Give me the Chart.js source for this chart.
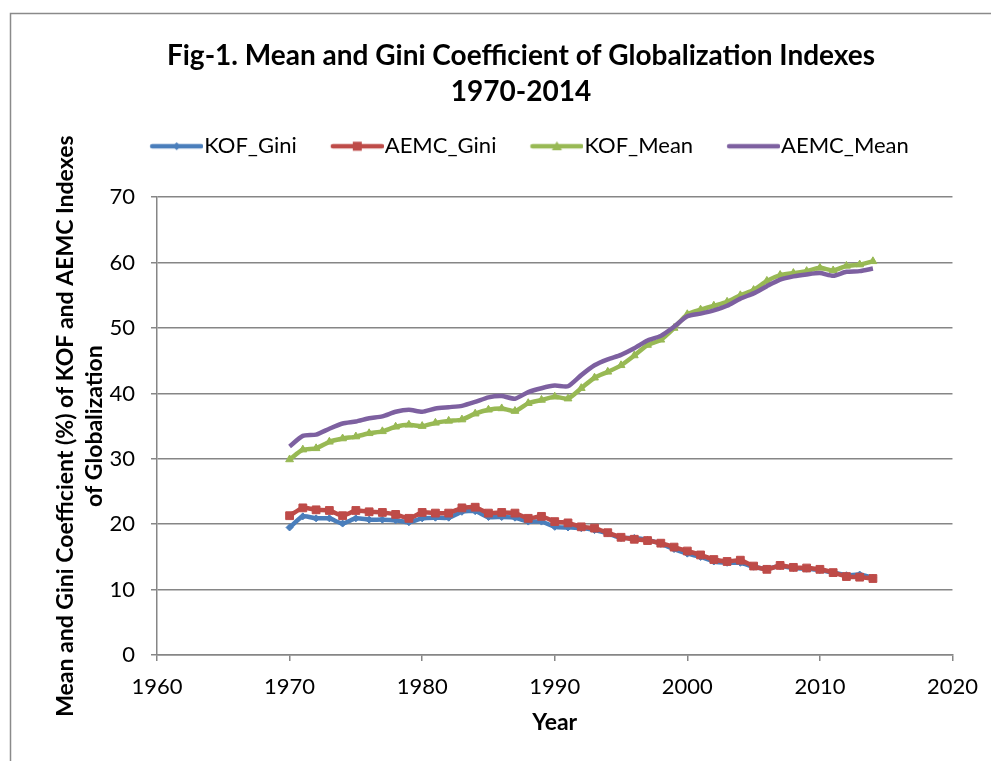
<!DOCTYPE html>
<html>
<head>
<meta charset="utf-8">
<script src="https://cdn.jsdelivr.net/npm/chart.js@4"></script>
<style>
  html, body { margin: 0; padding: 0; background: #fff; }
  #wrap { width: 991px; height: 761px; }
</style>
</head>
<body>
<div id="wrap"><canvas id="chart" width="991" height="761"></canvas></div>
<script>
const years = [1970, 1971, 1972, 1973, 1974, 1975, 1976, 1977, 1978, 1979,
    1980, 1981, 1982, 1983, 1984, 1985, 1986, 1987, 1988, 1989,
    1990, 1991, 1992, 1993, 1994, 1995, 1996, 1997, 1998, 1999,
    2000, 2001, 2002, 2003, 2004, 2005, 2006, 2007, 2008, 2009,
    2010, 2011, 2012, 2013, 2014];

const kofGini = [19.5, 21.2, 20.9, 20.9, 20.1, 20.9, 20.7, 20.7, 20.6, 20.3,
    20.9, 21.0, 21.0, 21.9, 22.0, 21.1, 21.1, 21.0, 20.4, 20.4,
    19.6, 19.5, 19.4, 19.1, 18.6, 17.9, 17.9, 17.6, 17.0, 16.2,
    15.5, 15.0, 14.3, 14.1, 14.1, 13.5, 13.2, 13.6, 13.3, 13.2,
    13.0, 12.6, 12.2, 12.3, 11.8];

const aemcGini = [21.3, 22.5, 22.2, 22.1, 21.3, 22.1, 21.9, 21.8, 21.5, 20.9,
    21.8, 21.7, 21.7, 22.5, 22.6, 21.7, 21.8, 21.7, 20.9, 21.2,
    20.4, 20.2, 19.6, 19.4, 18.7, 18.0, 17.7, 17.5, 17.1, 16.5,
    15.9, 15.3, 14.6, 14.3, 14.5, 13.6, 13.1, 13.7, 13.4, 13.3,
    13.1, 12.6, 12.0, 11.9, 11.7];

const kofMean = [29.9, 31.4, 31.6, 32.6, 33.1, 33.4, 33.9, 34.2, 34.9, 35.2,
    35.0, 35.5, 35.8, 36.0, 36.9, 37.5, 37.7, 37.3, 38.5, 39.0,
    39.5, 39.2, 40.8, 42.4, 43.3, 44.3, 45.8, 47.4, 48.2, 50.0,
    52.1, 52.8, 53.4, 54.0, 55.0, 55.8, 57.2, 58.1, 58.4, 58.7,
    59.2, 58.8, 59.5, 59.7, 60.2];

const aemcMean = [31.9, 33.5, 33.7, 34.6, 35.4, 35.7, 36.2, 36.5, 37.2, 37.5,
    37.2, 37.7, 37.9, 38.1, 38.7, 39.4, 39.6, 39.2, 40.2, 40.8,
    41.2, 41.1, 42.8, 44.3, 45.2, 45.9, 46.9, 48.1, 48.8, 50.2,
    51.8, 52.2, 52.7, 53.4, 54.5, 55.3, 56.4, 57.4, 57.9, 58.2,
    58.4, 58.0, 58.6, 58.7, 59.1];

const seriesNames = ["KOF_Gini", "AEMC_Gini", "KOF_Mean", "AEMC_Mean"];
const xTicks = [1960, 1970, 1980, 1990, 2000, 2010, 2020];
const yTicks = [0, 10, 20, 30, 40, 50, 60, 70];

const colors = ["#4A7EBB", "#BE4B48", "#98B954", "#7D60A0"];
const markers = ["rectRot", "rect", "triangle", false];
const markerSizes = [3.5, 5.5, 4.5, 0];

const FONT = "Lato, 'Liberation Sans', sans-serif";
const gridGray = "#868686";

function points(vals) {
    return years.map((y, i) => ({x: y, y: vals[i]}));
}

// small line + marker sample for the legend, like Excel draws it
function legendSample(i) {
    const c = document.createElement("canvas");
    c.width = 80;
    c.height = 14;
    const g = c.getContext("2d");
    g.strokeStyle = colors[i];
    g.lineWidth = 4.5;
    g.lineCap = "round";
    g.beginPath();
    g.moveTo(29, 7);
    g.lineTo(78, 7);
    g.stroke();
    g.fillStyle = colors[i];
    const cx = 53.5;
    if (markers[i] === "rect") {
        g.fillRect(cx - 4.5, 2.5, 9, 9);
    } else if (markers[i] === "rectRot") {
        g.beginPath();
        g.moveTo(cx, 3); g.lineTo(cx + 4, 7); g.lineTo(cx, 11); g.lineTo(cx - 4, 7);
        g.fill();
    } else if (markers[i] === "triangle") {
        g.beginPath();
        g.moveTo(cx, 2); g.lineTo(cx + 5, 11); g.lineTo(cx - 5, 11);
        g.fill();
    }
    return c;
}

const allValues = [kofGini, aemcGini, kofMean, aemcMean];
const datasets = allValues.map((vals, i) => ({
    label: seriesNames[i],
    data: points(vals),
    borderColor: colors[i],
    backgroundColor: colors[i],
    borderWidth: 4.5,
    pointStyle: markers[i],
    pointRadius: markerSizes[i],
    pointBorderWidth: 1,
    pointBorderColor: colors[i],
    pointBackgroundColor: colors[i],
    tension: 0.2,
    order: 4 - i
}));

const framePlugin = {
    id: "frame",
    beforeDraw(chart) {
        const ctx = chart.ctx;
        ctx.save();
        ctx.fillStyle = "#fff";
        ctx.fillRect(0, 0, chart.width, chart.height);
        ctx.strokeStyle = "#8a8a8a";
        ctx.lineWidth = 1.5;
        ctx.strokeRect(10.5, 13.5, 1100, 900);
        ctx.restore();
    }
};

new Chart(document.getElementById("chart"), {
    type: "line",
    data: {datasets: datasets},
    plugins: [framePlugin],
    options: {
        responsive: false,
        animation: false,
        layout: {padding: {left: 51, right: 0, top: 0, bottom: 0}},
        plugins: {
            title: {
                display: true,
                text: ["Fig-1. Mean and Gini Coefficient of Globalization Indexes", "1970-2014"],
                color: "#000",
                font: {family: FONT, size: 28, weight: "bold", lineHeight: 1.29},
                padding: {top: 38, bottom: 8}
            },
            legend: {
                display: true,
                labels: {
                    color: "#000",
                    font: {family: FONT, size: 22},
                    usePointStyle: true,
                    pointStyleWidth: 60,
                    padding: 17,
                    sort: (a, b) => a.datasetIndex - b.datasetIndex,
                    generateLabels(chart) {
                        const items = Chart.defaults.plugins.legend.labels.generateLabels(chart);
                        items.forEach(it => { it.pointStyle = legendSample(it.datasetIndex); });
                        return items;
                    }
                }
            },
            tooltip: {enabled: false}
        },
        scales: {
            x: {
                type: "linear",
                position: "bottom",
                min: xTicks[0],
                max: xTicks[xTicks.length - 1],
                afterBuildTicks: s => { s.ticks = xTicks.map(v => ({value: v})); },
                afterFit: s => { s.height = 106; },
                ticks: {
                    color: "#000",
                    font: {family: FONT, size: 22},
                    padding: 13,
                    maxRotation: 0,
                    callback: v => String(v)
                },
                grid: {drawOnChartArea: false, drawTicks: true, tickLength: 6, tickColor: gridGray, lineWidth: 1.5},
                border: {color: gridGray, width: 1.5},
                title: {
                    display: true,
                    text: "Year",
                    color: "#000",
                    font: {family: FONT, size: 23, weight: "bold"},
                    padding: {top: 0, bottom: 25}
                }
            },
            xTop: {
                type: "linear",
                position: "top",
                display: true,
                ticks: {display: false},
                grid: {display: false},
                border: {display: false},
                afterFit: s => { s.height = 30; }
            },
            y: {
                type: "linear",
                position: "left",
                min: yTicks[0],
                max: yTicks[yTicks.length - 1],
                afterBuildTicks: s => { s.ticks = yTicks.map(v => ({value: v})); },
                afterFit: s => { s.width = 106; },
                ticks: {
                    color: "#000",
                    font: {family: FONT, size: 22},
                    padding: 16
                },
                grid: {color: gridGray, lineWidth: 1.5, drawTicks: true, tickLength: 6, tickColor: gridGray},
                border: {color: gridGray, width: 1.5},
                title: {
                    display: true,
                    text: ["Mean and Gini Coefficient (%) of KOF and AEMC Indexes", "of Globalization"],
                    color: "#000",
                    font: {family: FONT, size: 23, weight: "bold", lineHeight: 1.26},
                    padding: {top: 0, bottom: 0}
                }
            },
            yRight: {
                type: "linear",
                position: "right",
                display: true,
                ticks: {display: false},
                grid: {display: false},
                border: {display: false},
                afterFit: s => { s.width = 38; }
            }
        }
    }
});
</script>
</body>
</html>
